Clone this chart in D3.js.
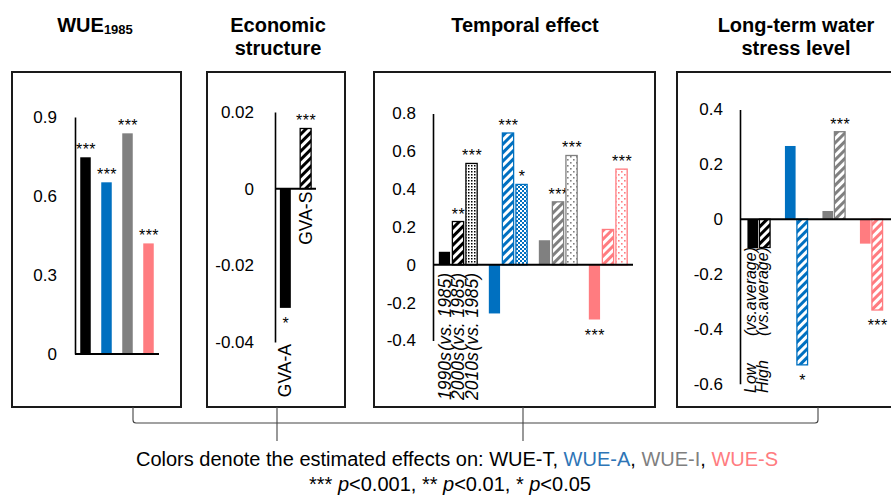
<!DOCTYPE html>
<html><head><meta charset="utf-8">
<script src="https://cdn.jsdelivr.net/npm/d3@7"></script>
<style>
body{margin:0;background:#fff}
svg{display:block;font-family:"Liberation Sans",Arial,Helvetica,sans-serif}
</style>
</head><body>
<svg id="c" width="891" height="497"></svg>
<script>
// ---------------- data ----------------
const targets = ["WUE-T","WUE-A","WUE-I","WUE-S"];

const wue1985 = [0.747, 0.652, 0.838, 0.42];
const wue1985Sig = ["***","***","***","***"];
const wue1985Ticks = [0, 0.3, 0.6, 0.9];

const econCats = ["GVA-A","GVA-S"];
const econValues = [-0.0311, 0.0157];
const econSig = ["*","***"];
const econTicks = [-0.04, -0.02, 0, 0.02];

const periods = ["1990s","2000s","2010s"];
const periodRef = "(vs. 1985)";
const temporalT = [0.069, 0.229, 0.536];
const temporalA = [-0.257, 0.697, 0.425];
const temporalI = [0.13, 0.333, 0.578];
const temporalS = [-0.289, 0.187, 0.506];
const temporalSigT = ["","**","***"];
const temporalSigA = ["","***","*"];
const temporalSigI = ["","***","***"];
const temporalSigS = ["***","","***"];
const temporalTicks = [-0.4, -0.2, 0, 0.2, 0.4, 0.6, 0.8];

const stressLevels = ["Low","High"];
const stressRef = "(vs.average)";
const stressT = [-0.106, -0.103];
const stressA = [0.267, -0.531];
const stressI = [0.03, 0.319];
const stressS = [-0.089, -0.331];
const stressSigT = ["",""];
const stressSigA = ["","*"];
const stressSigI = ["","***"];
const stressSigS = ["","***"];
const stressTicks = [-0.6, -0.4, -0.2, 0, 0.2, 0.4];

// ---------------- styles ----------------
const targetColors = ["#000000","#0070C0","#808080","#FF7C80"];
const textColors = ["#000000","#2E75B6","#7F7F7F","#FF7C80"];

const svg = d3.select("#c");
const defs = svg.append("defs");

targetColors.forEach((c,i)=>{
  const h = defs.append("pattern").attr("id","hatch"+i)
    .attr("patternUnits","userSpaceOnUse").attr("width",6).attr("height",6)
    .attr("patternTransform","rotate(45)");
  h.append("rect").attr("width",6).attr("height",6).attr("fill","#fff");
  h.append("rect").attr("width",3).attr("height",6).attr("fill",c);

  const d = defs.append("pattern").attr("id","dots"+i).attr("patternUnits","userSpaceOnUse");
  if (i===0) {
    d.attr("width",3).attr("height",3);
    d.append("rect").attr("width",3).attr("height",3).attr("fill","#fff");
    d.append("rect").attr("width",1.5).attr("height",1.5).attr("fill",c);
  } else if (i===1) {
    d.attr("width",4).attr("height",4);
    d.append("rect").attr("width",4).attr("height",4).attr("fill","#fff");
    d.append("rect").attr("width",2).attr("height",2).attr("fill",c);
    d.append("rect").attr("x",2).attr("y",2).attr("width",2).attr("height",2).attr("fill",c);
  } else {
    d.attr("width",6).attr("height",6);
    d.append("rect").attr("width",6).attr("height",6).attr("fill","#fff");
    d.append("rect").attr("width",1.6).attr("height",1.6).attr("fill",c);
    d.append("rect").attr("x",3).attr("y",3).attr("width",1.6).attr("height",1.6).attr("fill",c);
  }
});

function fillFor(style, ci){
  if (style==="hatch") return `url(#hatch${ci})`;
  if (style==="dots") return `url(#dots${ci})`;
  return targetColors[ci];
}

// panel frames
const frames = [[12,181],[207,345],[374,655],[677,1000]];
frames.forEach(([a,b])=>{
  svg.append("rect").attr("x",a).attr("y",72).attr("width",b-a).attr("height",335)
    .attr("fill","none").attr("stroke","#1a1a1a").attr("stroke-width",2);
});

function drawAxis(g, y, ax, ticks, pad){
  const a = g.append("g").attr("transform",`translate(${ax},0)`)
    .call(d3.axisLeft(y).tickValues(ticks).tickFormat(d=>String(d)).tickSize(0).tickPadding(pad));
  a.select(".domain").attr("stroke","#000").attr("stroke-width",1.6);
  a.selectAll("text").attr("font-size",17).attr("fill","#000")
    .attr("font-family",'"Liberation Sans",Arial,sans-serif');
}

function drawBar(g, x, w, y, v, fill, stroke){
  g.append("rect").attr("x",x).attr("width",w)
    .attr("y",y(Math.max(0,v))).attr("height",Math.abs(y(v)-y(0)))
    .attr("fill",fill)
    .attr("stroke",stroke||"none").attr("stroke-width",stroke?1.3:0);
}

function drawStar(g, cx, y, v, s){
  if(!s) return;
  g.append("text").attr("x",cx+0.5).attr("y", v>=0 ? y(v)-2 : y(v)+21)
    .attr("text-anchor","middle").attr("font-size",16).attr("letter-spacing",0.5)
    .attr("fill","#000").text(s);
}

function baseline(g, y, x1, x2){
  g.append("line").attr("x1",x1).attr("x2",x2).attr("y1",y(0)).attr("y2",y(0))
    .attr("stroke","#000").attr("stroke-width",2);
}

function vlabel(g, cx, yAnchor, anchor, txt, italic, size){
  g.append("text")
    .attr("transform",`translate(${cx},${yAnchor}) rotate(-90)`)
    .attr("dy","0.35em").attr("text-anchor",anchor)
    .attr("font-size",size||16).attr("font-style",italic?"italic":"normal")
    .attr("fill","#000").text(txt);
}

// ---------------- Panel 1: WUE1985 ----------------
{
  const g = svg.append("g");
  const y = d3.scaleLinear().domain([0,0.9]).range([354,117]);
  const x = d3.scaleBand().domain(targets).range([75,159]).paddingInner(0.5).paddingOuter(0.25);
  drawAxis(g, y, 75, wue1985Ticks, 18);
  targets.forEach((t,i)=>{
    drawBar(g, x(t), x.bandwidth(), y, wue1985[i], targetColors[i]);
    drawStar(g, x(t)+x.bandwidth()/2, y, wue1985[i], wue1985Sig[i]);
  });
  baseline(g, y, 75, 159);
}

// ---------------- Panel 2: Economic structure ----------------
{
  const g = svg.append("g");
  const y = d3.scaleLinear().domain([-0.04,0.02]).range([342,112]);
  const x = d3.scaleBand().domain(econCats).range([275,316]).paddingInner(0.46).paddingOuter(0.24);
  drawAxis(g, y, 275, econTicks, 21);
  const styles = ["solid","hatch"];
  econCats.forEach((c,i)=>{
    drawBar(g, x(c), x.bandwidth(), y, econValues[i], fillFor(styles[i],0), styles[i]==="solid"?null:targetColors[0]);
    drawStar(g, x(c)+x.bandwidth()/2, y, econValues[i], econSig[i]);
  });
  baseline(g, y, 275, 316);
  vlabel(g, x("GVA-A")+x.bandwidth()/2, y(-0.04)+2, "end", "GVA-A", false, 17.5);
  vlabel(g, x("GVA-S")+x.bandwidth()/2, y(0)+3, "end", "GVA-S", false, 17.5);
}

// ---------------- Panel 3: Temporal effect ----------------
{
  const g = svg.append("g");
  const y = d3.scaleLinear().domain([-0.4,0.8]).range([340.5,113.5]);
  const xg = d3.scaleBand().domain(targets).range([433,633]);
  const xi = d3.scaleBand().domain(periods).range([0,xg.bandwidth()]).paddingInner(0.17).paddingOuter(0.43);
  drawAxis(g, y, 433, temporalTicks, 17);
  const series = [temporalT, temporalA, temporalI, temporalS];
  const sigs = [temporalSigT, temporalSigA, temporalSigI, temporalSigS];
  const styles = ["solid","hatch","dots"];
  targets.forEach((t,ti)=>{
    periods.forEach((p,pi)=>{
      const bx = xg(t)+xi(p);
      drawBar(g, bx, xi.bandwidth(), y, series[ti][pi], fillFor(styles[pi],ti), styles[pi]==="solid"?null:targetColors[ti]);
      drawStar(g, bx+xi.bandwidth()/2, y, series[ti][pi], sigs[ti][pi]);
    });
  });
  baseline(g, y, 433, 633);
  periods.forEach(p=>{
    const cx = xg(targets[0])+xi(p)+xi.bandwidth()/2;
    vlabel(g, cx, y(0)+8, "end", periodRef, true, 17.5);
    vlabel(g, cx, 400, "start", p, true, 17.5);
  });
}

// ---------------- Panel 4: Long-term water stress level ----------------
{
  const g = svg.append("g");
  const y = d3.scaleLinear().domain([-0.6,0.4]).range([383.8,109.5]);
  const xg = d3.scaleBand().domain(targets).range([740,890]);
  const xi = d3.scaleBand().domain(stressLevels).range([0,xg.bandwidth()]).paddingInner(0.11).paddingOuter(0.62);
  drawAxis(g, y, 740, stressTicks, 17);
  const series = [stressT, stressA, stressI, stressS];
  const sigs = [stressSigT, stressSigA, stressSigI, stressSigS];
  const styles = ["solid","hatch"];
  targets.forEach((t,ti)=>{
    stressLevels.forEach((l,li)=>{
      const bx = xg(t)+xi(l);
      drawBar(g, bx, xi.bandwidth(), y, series[ti][li], fillFor(styles[li],ti), styles[li]==="solid"?null:targetColors[ti]);
      drawStar(g, bx+xi.bandwidth()/2, y, series[ti][li], sigs[ti][li]);
    });
  });
  baseline(g, y, 740, 891);
  stressLevels.forEach(l=>{
    const cx = xg(targets[0])+xi(l)+xi.bandwidth()/2-2;
    vlabel(g, cx, 247, "end", stressRef, true, 16);
    vlabel(g, cx, 393, "start", l, true, 16);
  });
}

// ---------------- Titles ----------------
{
  const t = svg.append("g").attr("font-weight","bold").attr("font-size",20).attr("fill","#000").attr("text-anchor","middle");
  const w = t.append("text").attr("x",95).attr("y",32);
  w.append("tspan").text("WUE");
  w.append("tspan").attr("font-size",13).attr("dy",2).text("1985");
  t.append("text").attr("x",278).attr("y",32).text("Economic");
  t.append("text").attr("x",278).attr("y",55).text("structure");
  t.append("text").attr("x",525).attr("y",32).text("Temporal effect");
  t.append("text").attr("x",796).attr("y",32).text("Long-term water");
  t.append("text").attr("x",796).attr("y",55).text("stress level");
}

// ---------------- Bracket ----------------
{
  const g = svg.append("g").attr("fill","none").attr("stroke","#444").attr("stroke-width",1.1);
  g.append("path").attr("d","M133,407 V420 Q133,423 136,423 H815 Q818,423 818,420 V407");
  g.append("line").attr("x1",277).attr("x2",277).attr("y1",407).attr("y2",441);
  g.append("line").attr("x1",523).attr("x2",523).attr("y1",407).attr("y2",441);
}

// ---------------- Footer ----------------
{
  const l1 = svg.append("text").attr("x",457).attr("y",466).attr("text-anchor","middle").attr("font-size",20).attr("fill","#000");
  l1.append("tspan").text("Colors denote the estimated effects on: ");
  targets.forEach((t,i)=>{
    l1.append("tspan").attr("fill",textColors[i]).text(t);
    if(i<targets.length-1) l1.append("tspan").attr("fill","#000").text(", ");
  });
  const l2 = svg.append("text").attr("x",450).attr("y",491).attr("text-anchor","middle").attr("font-size",20).attr("fill","#000");
  const parts = [["*** ",false],["p",true],["<0.001, ** ",false],["p",true],["<0.01, * ",false],["p",true],["<0.05",false]];
  parts.forEach(([s,it])=>l2.append("tspan").attr("font-style",it?"italic":"normal").text(s));
}
</script>
</body></html>
